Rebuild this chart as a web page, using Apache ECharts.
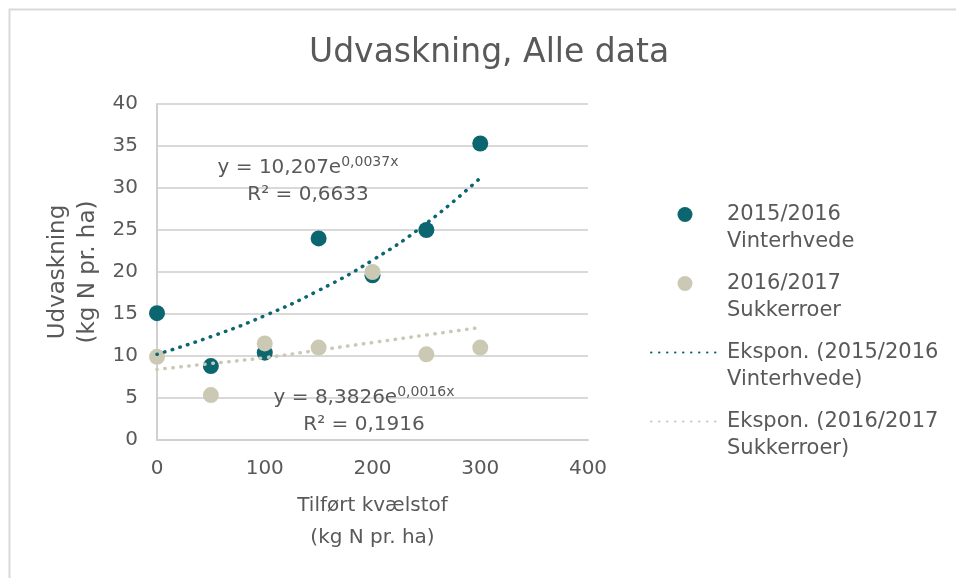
<!DOCTYPE html>
<html>
<head>
<meta charset="utf-8">
<script src="https://cdn.jsdelivr.net/npm/echarts@6/dist/echarts.min.js"></script>
<style>html,body{margin:0;padding:0;background:#fff}#c{width:956px;height:578px}</style>
</head>
<body>
<div id="c"></div>
<script>
// ---- data ----
var xValues = [0, 50, 100, 150, 200, 250, 300];
var vinterhvede = [15.1, 8.8, 10.4, 24.0, 19.6, 25.0, 35.3];
var sukkerroer = [9.9, 5.35, 11.5, 11.0, 20.0, 10.2, 11.0];
var trendVinterhvede = [10.2, 12.3, 14.8, 17.8, 21.4, 25.8, 31.2];
var trendSukkerroer = [8.4, 9.1, 9.8, 10.7, 11.6, 12.5, 13.4];
var seriesNames = ['2015/2016 Vinterhvede', '2016/2017 Sukkerroer', 'Ekspon. (2015/2016 Vinterhvede)', 'Ekspon. (2016/2017 Sukkerroer)'];
var legendLabels = ['2015/2016\nVinterhvede', '2016/2017\nSukkerroer', 'Ekspon. (2015/2016\nVinterhvede)', 'Ekspon. (2016/2017\nSukkerroer)'];
var xTicks = [0, 100, 200, 300, 400];
var yTicks = [0, 5, 10, 15, 20, 25, 30, 35, 40];
var titleText = 'Udvaskning, Alle data';
var xName = 'Tilført kvælstof\n(kg N pr. ha)';
var yName = 'Udvaskning\n(kg N pr. ha)';
var eq1 = ['y = 10,207e', '0,0037x', 'R² = 0,6633'];
var eq2 = ['y = 8,3826e', '0,0016x', 'R² = 0,1916'];

function pairs(xs, ys) { return xs.map(function (x, i) { return [x, ys[i]]; }); }

var TEAL = '#0b6670';
var BEIGE = '#cbc9b4';
var TXT = '#595959';
var FONT = 'DejaVu Sans';

var chart = echarts.init(document.getElementById('c'));
var legendMap = {};
seriesNames.forEach(function (n, i) { legendMap[n] = '\n' + legendLabels[i]; });

function eqText(eq) {
  return '{n|' + eq[0] + '}{s|' + eq[1] + '}\n{n|' + eq[2] + '}';
}
var eqRich = {
  n: { fontFamily: FONT, fontSize: 20, fill: TXT, color: TXT, lineHeight: 27 },
  s: { fontFamily: FONT, fontSize: 14, fill: TXT, color: TXT, lineHeight: 27, verticalAlign: 'top', padding: [1, 0, 0, 0] }
};

chart.setOption({
  animation: false,
  backgroundColor: '#fff',
  textStyle: { fontFamily: FONT },
  title: {
    text: titleText, left: 309, top: 37, padding: 0,
    textStyle: { fontFamily: FONT, fontSize: 33, fontWeight: 'normal', color: TXT }
  },
  grid: { left: 157, right: 368, top: 104, bottom: 138, containLabel: false },
  xAxis: {
    type: 'value', min: 0, max: 400, interval: 100,
    name: xName, nameLocation: 'middle', nameGap: 50,
    nameTextStyle: { fontFamily: FONT, fontSize: 20, color: TXT, lineHeight: 32 },
    axisLine: { show: true, lineStyle: { color: '#d0d0d0', width: 2 } },
    axisTick: { show: false },
    splitLine: { show: false },
    axisLabel: { fontFamily: FONT, fontSize: 20, color: TXT, margin: 19 }
  },
  yAxis: {
    type: 'value', min: 0, max: 40, interval: 5,
    name: yName, nameLocation: 'middle', nameGap: 54, nameRotate: 90,
    nameTextStyle: { fontFamily: FONT, fontSize: 23, color: TXT, lineHeight: 30 },
    axisLine: { show: true, lineStyle: { color: '#d0d0d0', width: 2 } },
    axisTick: { show: false },
    splitLine: { show: true, lineStyle: { color: '#d9d9d9', width: 2 } },
    axisLabel: { fontFamily: FONT, fontSize: 20, color: TXT, margin: 19 }
  },
  legend: {
    orient: 'vertical', left: 650, top: 174, padding: 0,
    itemWidth: 68, itemHeight: 15, itemGap: -12,
    data: [
      { name: seriesNames[0] },
      { name: seriesNames[1] },
      { name: seriesNames[2], itemStyle: { opacity: 0 } },
      { name: seriesNames[3], itemStyle: { opacity: 0 } }
    ],
    formatter: function (n) { return legendMap[n]; },
    textStyle: { fontFamily: FONT, fontSize: 21, color: TXT, lineHeight: 27, padding: [0, 0, 0, 3] }
  },
  series: [
    {
      name: seriesNames[0], type: 'scatter', symbol: 'circle', symbolSize: 16,
      itemStyle: { color: TEAL, opacity: 1 }, data: pairs(xValues, vinterhvede), z: 2
    },
    {
      name: seriesNames[1], type: 'scatter', symbol: 'circle', symbolSize: 16,
      itemStyle: { color: BEIGE, opacity: 1 }, data: pairs(xValues, sukkerroer), z: 3
    },
    {
      name: seriesNames[2], type: 'line', smooth: true, showSymbol: false, symbol: 'none',
      lineStyle: { color: TEAL, width: 3.5, type: [0.5, 7.5], cap: 'round' },
      itemStyle: { color: TEAL, opacity: 0 },
      data: pairs(xValues, trendVinterhvede), z: 4
    },
    {
      name: seriesNames[3], type: 'line', smooth: true, showSymbol: false, symbol: 'none',
      lineStyle: { color: BEIGE, width: 3.5, type: [0.5, 7.5], cap: 'round' },
      itemStyle: { color: BEIGE, opacity: 0 },
      data: pairs(xValues, trendSukkerroer), z: 5
    }
  ],
  graphic: [
    {
      type: 'rect', left: 7, top: 7, z: -1, silent: true,
      shape: { x: 0, y: 0, width: 1200, height: 900 },
      style: { fill: 'none', stroke: '#d9d9d9', lineWidth: 2 }
    },
    {
      type: 'text', x: 308, y: 154, z: 10, silent: true,
      style: { text: eqText(eq1), align: 'center', verticalAlign: 'top', fill: TXT, rich: eqRich }
    },
    {
      type: 'text', x: 364, y: 384, z: 10, silent: true,
      style: { text: eqText(eq2), align: 'center', verticalAlign: 'top', fill: TXT, rich: eqRich }
    }
  ]
});
</script>
</body>
</html>
